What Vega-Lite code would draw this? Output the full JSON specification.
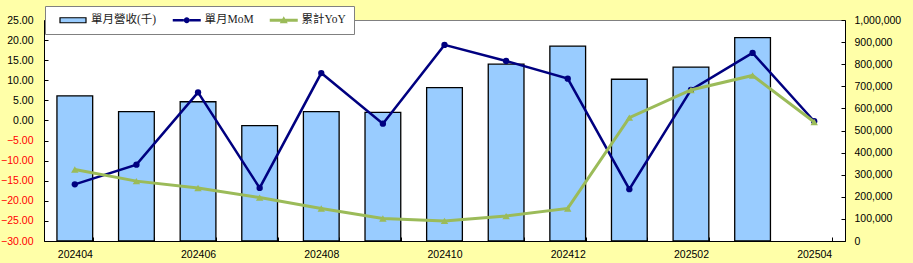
{
  "$schema": "https://vega.github.io/schema/vega-lite/v6.json",
  "width": 801,
  "height": 221,
  "autosize": "none",
  "padding": {"left": 44, "top": 20, "right": 68, "bottom": 22},
  "background": "#FFFFA8",
  "config": {
    "view": {"stroke": "#808080", "strokeWidth": 1, "fill": "white"},
    "axis": {"labelFont": "Liberation Sans", "labelFontSize": 10.5, "labelColor": "black", "domainColor": "black", "tickColor": "black", "grid": false, "title": null}
  },
  "data": {
    "values": [
      {"month": "202404", "rev": 657000, "mom": -15.9, "yoy": -12.2},
      {"month": "202405", "rev": 585000, "mom": -11.0, "yoy": -15.1},
      {"month": "202406", "rev": 630000, "mom": 7.0, "yoy": -16.8},
      {"month": "202407", "rev": 522000, "mom": -16.8, "yoy": -19.2},
      {"month": "202408", "rev": 585000, "mom": 11.8, "yoy": -21.9},
      {"month": "202409", "rev": 582000, "mom": -0.8, "yoy": -24.4},
      {"month": "202410", "rev": 694000, "mom": 18.8, "yoy": -25.0},
      {"month": "202411", "rev": 800000, "mom": 14.8, "yoy": -23.8},
      {"month": "202412", "rev": 882000, "mom": 10.4, "yoy": -21.9},
      {"month": "202501", "rev": 732000, "mom": -17.1, "yoy": 0.7},
      {"month": "202502", "rev": 787000, "mom": 7.6, "yoy": 7.6},
      {"month": "202503", "rev": 920000, "mom": 16.8, "yoy": 11.2},
      {"month": "202504", "rev": null, "mom": -0.2, "yoy": -0.4}
    ]
  },
  "transform": [{"fold": ["rev", "mom", "yoy"], "as": ["series", "value"]}],
  "encoding": {
    "x": {
      "field": "month", "type": "nominal", "sort": null,
      "scale": {"paddingInner": 0.42, "paddingOuter": 0.21},
      "axis": {
        "labelAngle": 0, "tickBand": "extent", "tickSize": -4, "labelPadding": 12,
        "labelExpr": "indexof(['202404','202406','202408','202410','202412','202502','202504'], datum.value) >= 0 ? datum.value : ''"
      }
    }
  },
  "layer": [
    {
      "transform": [{"filter": "datum.series === 'rev'"}],
      "mark": {"type": "bar", "color": "#99CCFF", "stroke": "black", "strokeWidth": 1.3, "opacity": 1},
      "encoding": {
        "y": {
          "field": "value", "type": "quantitative",
          "scale": {"domain": [0, 1000000], "nice": false},
          "axis": {"orient": "right", "values": [0, 100000, 200000, 300000, 400000, 500000, 600000, 700000, 800000, 900000, 1000000], "format": ",d", "tickSize": -4, "labelPadding": 13}
        }
      }
    },
    {
      "encoding": {
        "y": {
          "field": "value", "type": "quantitative",
          "scale": {"domain": [-30, 25], "nice": false, "zero": false},
          "axis": {
            "orient": "left", "values": [-30, -25, -20, -15, -10, -5, 0, 5, 10, 15, 20, 25], "format": ".2f",
            "tickSize": -4, "labelPadding": 15,
            "labelColor": {"condition": {"test": "datum.value < 0", "value": "#FF0000"}, "value": "black"}
          }
        }
      },
      "layer": [
        {
          "transform": [{"filter": "datum.series === 'mom'"}],
          "mark": {"type": "line", "color": "#000080", "strokeWidth": 2.5, "point": {"filled": true, "color": "#000080", "size": 40, "opacity": 1}}
        },
        {
          "transform": [{"filter": "datum.series === 'yoy'"}],
          "mark": {"type": "line", "color": "#9BBB59", "strokeWidth": 3, "point": {"filled": true, "color": "#9BBB59", "size": 55, "shape": "triangle-up", "opacity": 1}}
        },
        {
          "transform": [{"filter": "datum.series === 'legendonly'"}],
          "mark": {"type": "point", "filled": true, "opacity": 1, "size": 100, "stroke": "black"},
          "encoding": {
            "color": {
              "field": "series", "type": "nominal",
              "scale": {"domain": ["rev", "mom", "yoy"], "range": ["#99CCFF", "#000080", "#9BBB59"]},
              "legend": {
                "title": "\u00a0", "titleOrient": "left", "titlePadding": 14, "titleFontSize": 12,
                "orient": "none", "legendX": 1, "legendY": -14, "direction": "horizontal",
                "fillColor": "white", "strokeColor": "#808080", "padding": 8,
                "labelFont": "Liberation Serif, Noto Sans CJK TC", "labelFontSize": 11.5, "labelColor": "#222222",
                "labelOffset": 12, "columnPadding": 15, "symbolSize": 100, "symbolStrokeColor": "black",
                "labelExpr": "datum.value === 'rev' ? '單月營收(千)' : datum.value === 'mom' ? '單月MoM' : '累計YoY\u00a0\u00a0'"
              }
            },
            "shape": {
              "field": "series", "type": "nominal",
              "scale": {"domain": ["rev", "mom", "yoy"], "range": ["M-2.6,-0.5H2.6V0.5H-2.6Z", "M-2.8,-0.25H-0.6V0.25H-2.8Z M0.6,-0.25H2.8V0.25H0.6Z M-0.6,0A0.6,0.6 0 1,1 0.6,0A0.6,0.6 0 1,1 -0.6,0Z", "M-2.8,-0.3H2.8V0.3H-2.8Z M0,-0.8L0.8,0.6H-0.8Z"]}
            },
            "strokeWidth": {
              "field": "series", "type": "nominal",
              "scale": {"type": "ordinal", "domain": ["rev", "mom", "yoy"], "range": [1.2, 0, 0]}
            }
          }
        }
      ]
    }
  ],
  "resolve": {"scale": {"y": "independent"}}
}
